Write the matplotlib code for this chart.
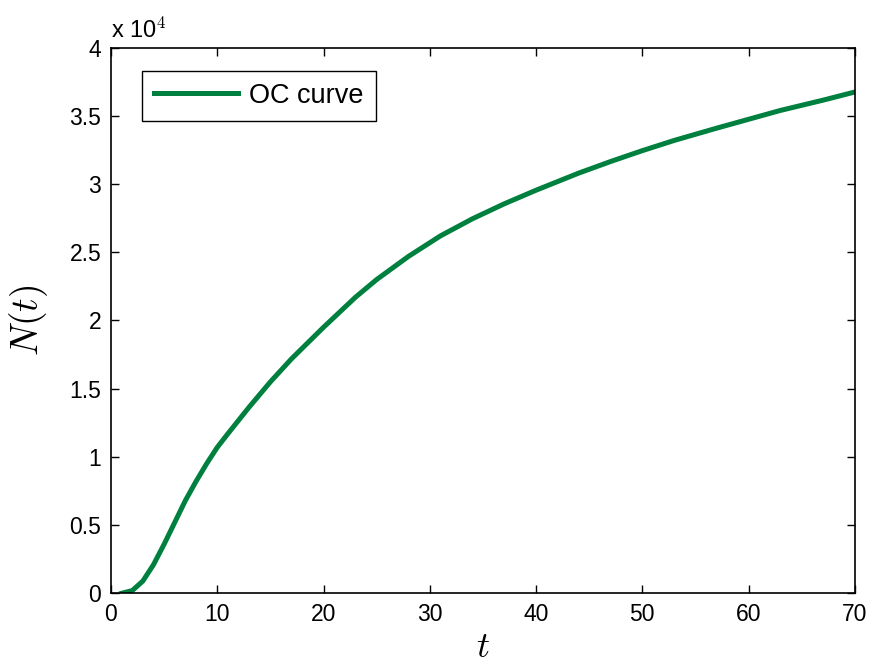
import matplotlib
matplotlib.use('Agg')
from matplotlib import pyplot as plt
import numpy as np

# values, N in units of 1e4
t_vals = [1, 2, 3, 4, 5, 6, 7, 8, 9, 10, 11, 13, 15, 17, 20, 23, 25, 28, 31,
          34, 37, 40, 44, 47, 50, 53, 57, 60, 63, 67, 70]
n_vals = [0.0, 0.02, 0.09, 0.21, 0.36, 0.52, 0.68, 0.82, 0.95, 1.07, 1.17,
          1.365, 1.55, 1.72, 1.95, 2.17, 2.30, 2.47, 2.62, 2.745, 2.855,
          2.955, 3.08, 3.165, 3.245, 3.32, 3.41, 3.475, 3.54, 3.615, 3.675]
x_ticks = [0, 10, 20, 30, 40, 50, 60, 70]
y_ticks = [0, 0.5, 1, 1.5, 2, 2.5, 3, 3.5, 4]
y_tick_labels = ['0', '0.5', '1', '1.5', '2', '2.5', '3', '3.5', '4']

plt.rcParams['font.family'] = ['Liberation Sans', 'DejaVu Sans']
plt.rcParams['mathtext.fontset'] = 'cm'

fig = plt.figure(figsize=(8.74, 6.67), dpi=100)
ax = fig.add_axes([0.127, 0.1105, 0.851, 0.818])

ax.plot(t_vals, np.array(n_vals), color='#00803f', lw=3.6, label='OC curve')

ax.set_xlim(0, 70)
ax.set_ylim(0, 4)
ax.set_xticks(x_ticks)
ax.set_yticks(y_ticks)
ax.set_yticklabels(y_tick_labels)
ax.tick_params(direction='in', top=True, right=True, length=6, width=1,
               labelsize=16.5, pad=7)
for sp in ax.spines.values():
    sp.set_linewidth(1.2)

# MATLAB style exponent label
ax.text(0.0, 1.008, r'x 10$^{\mathsf{4}}$', transform=ax.transAxes,
        fontsize=17, ha='left', va='bottom')

ax.set_xlabel(r'$t$', fontsize=26, labelpad=3)
ax.set_ylabel(r'$N(t)$', fontsize=27, labelpad=14)

leg = ax.legend(loc='upper left', bbox_to_anchor=(0.042, 0.958), fontsize=19.5,
                fancybox=False, framealpha=1, edgecolor='black',
                handlelength=3.1, borderpad=0.45, handletextpad=0.4,
                borderaxespad=0)
leg.get_frame().set_linewidth(1.0)

fig.savefig('out.png', dpi=100)
